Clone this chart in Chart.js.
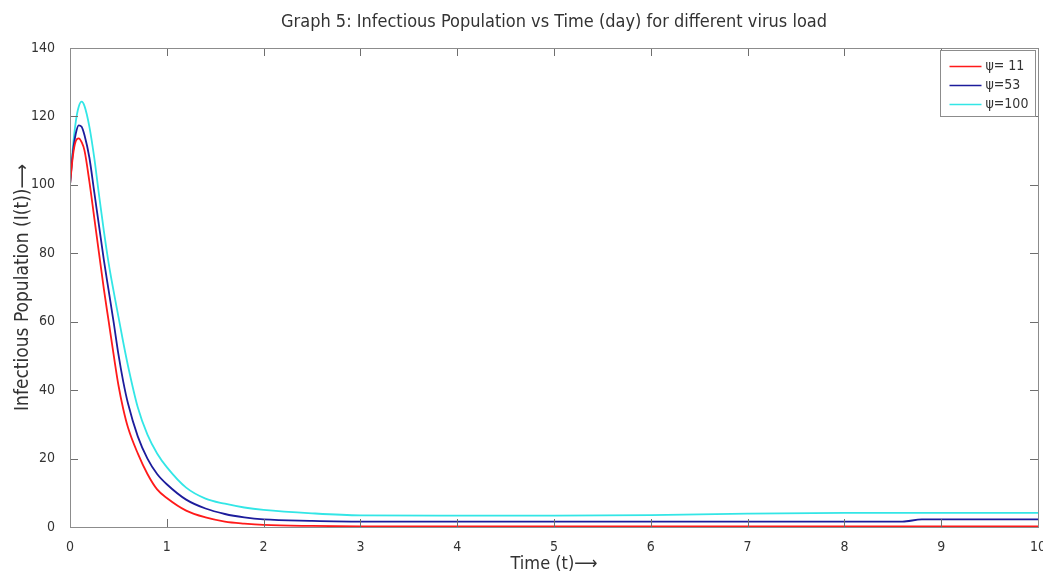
<!DOCTYPE html>
<html>
<head>
<meta charset="utf-8">
<title>Infectious Population vs Time</title>
<script src="https://cdn.jsdelivr.net/npm/chart.js@4"></script>
<style>
  html, body { margin: 0; padding: 0; background: #fff; }
  #wrap { width: 1043px; height: 577px; position: relative; }
</style>
</head>
<body>
<div id="wrap"><canvas id="chart"></canvas></div>
<script>
const FONT = '"Liberation Sans Narrow", "DejaVu Sans Condensed", "Roboto Condensed", sans-serif';
const TITLE = 'Graph 5: Infectious Population vs Time (day) for different virus load';

// time grid (days) shared by the three runs
const timeDays = [0, 0.03, 0.06, 0.09, 0.12, 0.15, 0.2, 0.25, 0.3, 0.35, 0.4, 0.45, 0.5, 0.55, 0.6,
  0.7, 0.8, 0.9, 1.0, 1.2, 1.4, 1.6, 1.8, 2.0, 2.5, 3, 4, 5, 6, 7, 8, 8.6, 8.8, 9, 10];

const psi11 = [100, 108.5, 112.8, 113.6, 112.5, 110, 101, 90.5, 80, 69.5, 60, 50.5, 41.5, 34.5, 29,
  21.5, 15.5, 11, 8.5, 4.8, 2.8, 1.6, 1.0, 0.6, 0.3, 0.2, 0.2, 0.2, 0.2, 0.2, 0.2, 0.2, 0.2, 0.2, 0.2];

const psi53 = [100, 109.5, 115, 117.4, 117, 114.5, 108, 98, 88, 78, 69, 60, 50.5, 42.5, 36,
  26.5, 20, 15.5, 12.5, 8, 5.4, 3.8, 2.8, 2.2, 1.8, 1.6, 1.6, 1.6, 1.6, 1.6, 1.6, 1.6, 2.2, 2.2, 2.2];

const psi100 = [100, 111, 118.5, 122.8, 124.3, 123, 117, 108, 97, 86.5, 77, 69, 61.5, 54, 47,
  35, 27, 21.5, 17.5, 11.5, 8.3, 6.8, 5.7, 5, 4, 3.4, 3.3, 3.3, 3.5, 3.9, 4.1, 4.1, 4.1, 4.1, 4.1];

const seriesLabels = ['\u03c8= 11', '\u03c8=53', '\u03c8=100'];
const seriesColors = ['#ff1a1a', '#1c1c9c', '#33e6e6'];
const xTicks = [0, 1, 2, 3, 4, 5, 6, 7, 8, 9, 10];
const yTicks = [0, 20, 40, 60, 80, 100, 120, 140];

const toPoints = vals => vals.map((v, i) => ({ x: timeDays[i], y: v }));

// title centred over the plot box rather than the whole canvas
const axesTitle = {
  id: 'axesTitle',
  afterDraw(chart) {
    const { ctx, chartArea: a } = chart;
    ctx.save();
    ctx.font = '18px ' + FONT;
    ctx.fillStyle = '#333';
    ctx.textAlign = 'center';
    ctx.textBaseline = 'middle';
    ctx.fillText(TITLE, (a.left + a.right) / 2, 22);
    ctx.restore();
  }
};

// inward tick marks on all four sides plus the closing box
const boxTicks = {
  id: 'boxTicks',
  afterDatasetsDraw(chart) {
    const { ctx, chartArea: a, scales } = chart;
    const len = 8;
    ctx.save();
    ctx.strokeStyle = '#6e6e6e';
    ctx.lineWidth = 1;
    ctx.beginPath();
    xTicks.forEach(v => {
      const px = Math.round(scales.x.getPixelForValue(v)) + 0.5;
      ctx.moveTo(px, a.bottom); ctx.lineTo(px, a.bottom - len);
      ctx.moveTo(px, a.top); ctx.lineTo(px, a.top + len);
    });
    yTicks.forEach(v => {
      const py = Math.round(scales.y.getPixelForValue(v)) + 0.5;
      ctx.moveTo(a.left, py); ctx.lineTo(a.left + len, py);
      ctx.moveTo(a.right, py); ctx.lineTo(a.right - len, py);
    });
    ctx.stroke();
    ctx.strokeStyle = '#8c8c8c';
    ctx.strokeRect(Math.round(a.left) + 0.5, Math.round(a.top) + 0.5,
      Math.round(a.right - a.left), Math.round(a.bottom - a.top));
    ctx.restore();
  }
};

// legend box inside the top-right corner of the plot
const insetLegend = {
  id: 'insetLegend',
  afterDraw(chart) {
    const { ctx, chartArea: a } = chart;
    const w = 95, h = 66;
    const x0 = Math.round(a.right - w - 3) + 0.5, y0 = Math.round(a.top + 2) + 0.5;
    ctx.save();
    ctx.fillStyle = '#fff';
    ctx.fillRect(x0, y0, w, h);
    ctx.strokeStyle = '#8c8c8c';
    ctx.lineWidth = 1;
    ctx.strokeRect(x0, y0, w, h);
    ctx.font = '14px ' + FONT;
    ctx.textBaseline = 'middle';
    chart.data.datasets.forEach((ds, i) => {
      const y = y0 + 16 + i * 19;
      ctx.strokeStyle = ds.borderColor;
      ctx.lineWidth = 1.5;
      ctx.beginPath();
      ctx.moveTo(x0 + 9, y); ctx.lineTo(x0 + 41, y);
      ctx.stroke();
      ctx.fillStyle = '#333';
      ctx.fillText(ds.label, x0 + 45, y);
    });
    ctx.restore();
  }
};

new Chart(document.getElementById('chart'), {
  type: 'line',
  data: {
    datasets: [psi11, psi53, psi100].map((vals, i) => ({
      label: seriesLabels[i],
      data: toPoints(vals),
      borderColor: seriesColors[i],
      borderWidth: 1.8,
      pointRadius: 0,
      fill: false,
      cubicInterpolationMode: 'monotone'
    }))
  },
  options: {
    responsive: true,
    maintainAspectRatio: false,
    animation: false,
    layout: { padding: { top: 48, right: 5, left: 0, bottom: 0 } },
    plugins: {
      legend: { display: false },
      tooltip: { enabled: false },
      title: { display: false }
    },
    scales: {
      x: {
        type: 'linear',
        min: 0, max: 10,
        afterBuildTicks: s => { s.ticks = xTicks.map(v => ({ value: v })); },
        afterFit: s => { s.height = 50; s.paddingLeft = 0; s.paddingRight = 0; },
        grid: { display: false },
        border: { display: true, color: '#6e6e6e' },
        ticks: { color: '#333', font: { family: FONT, size: 14 }, padding: 4, maxRotation: 0 },
        title: {
          display: true,
          text: 'Time (t)\u27f6',
          color: '#333',
          font: { family: FONT, size: 18 },
          padding: { top: 0, bottom: 2 }
        }
      },
      y: {
        min: 0, max: 140,
        afterBuildTicks: s => { s.ticks = yTicks.map(v => ({ value: v })); },
        afterFit: s => { s.width = 70; s.paddingTop = 0; },
        grid: { display: false },
        border: { display: true, color: '#6e6e6e' },
        ticks: { color: '#333', font: { family: FONT, size: 14 }, padding: 7 },
        title: {
          display: true,
          text: 'Infectious Population (I(t))\u27f6',
          color: '#333',
          font: { family: FONT, size: 19 },
          padding: { top: 12, bottom: 0 }
        }
      }
    }
  },
  plugins: [boxTicks, insetLegend, axesTitle]
});
</script>
</body>
</html>
